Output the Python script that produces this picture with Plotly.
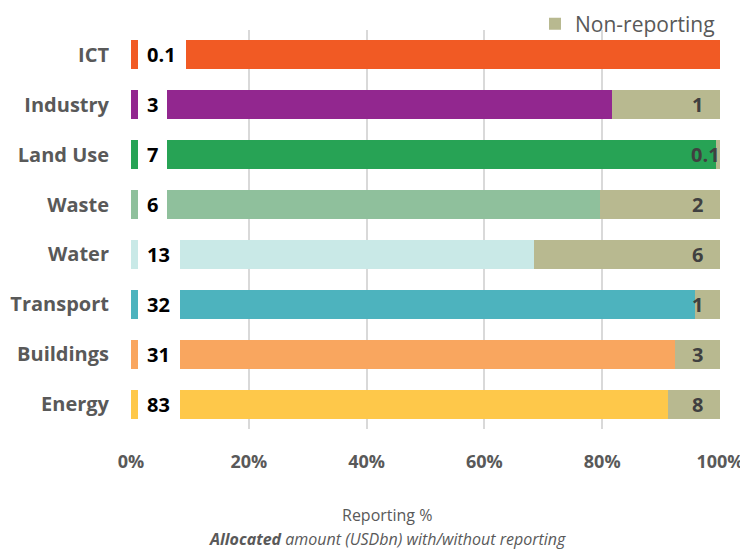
import plotly.graph_objects as go

categories = ["ICT", "Industry", "Land Use", "Waste", "Water", "Transport", "Buildings", "Energy"]
allocated = ["0.1", "3", "7", "6", "13", "32", "31", "83"]
nonrep_labels = ["", "1", "0.1", "2", "6", "1", "3", "8"]
x_ticks = [0, 20, 40, 60, 80, 100]
x_ticklabels = ["0%", "20%", "40%", "60%", "80%", "100%"]

# segment widths (% of bar)
marker_w = [1.2, 1.2, 1.2, 1.2, 1.2, 1.2, 1.2, 1.2]
spacer_w = [8.1, 4.9, 4.9, 4.9, 7.1, 7.1, 7.1, 7.1]
reporting_w = [90.7, 75.6, 93.2, 73.5, 60.1, 87.5, 84.0, 82.9]
nonrep_w = [0, 18.3, 0.7, 20.4, 31.6, 4.2, 7.7, 8.8]

colors = ["#F15A24", "#92278F", "#27A355", "#8FC09C", "#C9E9E7", "#4DB3BE", "#F9A65F", "#FEC84A"]
nonrep_color = "#B8B990"

FONT = "Open Sans"

fig = go.Figure()
fig.add_trace(go.Bar(y=categories, x=marker_w, orientation="h",
                     marker=dict(color=colors, line_width=0), showlegend=False, hoverinfo="skip"))
fig.add_trace(go.Bar(y=categories, x=spacer_w, orientation="h",
                     marker=dict(color="rgba(0,0,0,0)", line_width=0), showlegend=False, hoverinfo="skip"))
fig.add_trace(go.Bar(y=categories, x=reporting_w, orientation="h", name="Reporting",
                     marker=dict(color=colors, line_width=0), showlegend=False))
fig.add_trace(go.Bar(y=categories, x=nonrep_w, orientation="h", name="Non-reporting",
                     marker=dict(color=nonrep_color, line_width=0)))

annotations = []
for i, cat in enumerate(categories):
    annotations.append(dict(x=marker_w[i], y=cat, xref="x", yref="y", text="<b>%s</b>" % allocated[i],
                            showarrow=False, xanchor="left", xshift=7,
                            font=dict(family=FONT, size=20, color="#000000")))
    if nonrep_labels[i]:
        annotations.append(dict(x=100, y=cat, xref="x", yref="y", text="<b>%s</b>" % nonrep_labels[i],
                                showarrow=False, xanchor="right",
                                xshift=-15 if nonrep_w[i] >= 3 else 2,
                                font=dict(family=FONT, size=20, color="#404040")))

annotations.append(dict(x=0.435, y=-0.215, xref="paper", yref="paper", text="Reporting %",
                        showarrow=False, xanchor="center", yanchor="middle",
                        font=dict(family=FONT, size=16, color="#595959")))
annotations.append(dict(x=0.435, y=-0.275, xref="paper", yref="paper",
                        text="<b><i>Allocated</i></b><i> amount (USDbn) with/without reporting</i>",
                        showarrow=False, xanchor="center", yanchor="middle",
                        font=dict(family=FONT, size=16, color="#595959")))

# page body has an 8px margin, so the figure is 8px smaller each way
fig.update_layout(
    width=740, height=542,
    margin=dict(l=123, r=28, t=22, b=121, autoexpand=False),
    plot_bgcolor="white", paper_bgcolor="white",
    barmode="stack", bargap=0.42,
    font=dict(family=FONT, color="#595959"),
    legend=dict(orientation="h", x=1.0, xanchor="right", y=1.015, yanchor="middle",
                font=dict(family=FONT, size=21, color="#595959"), bgcolor="rgba(0,0,0,0)"),
    annotations=annotations,
)
fig.update_xaxes(range=[0, 100], tickvals=x_ticks, ticktext=x_ticklabels,
                 showgrid=True, gridcolor="#d9d9d9", gridwidth=1.5, zeroline=False,
                 showline=False, ticklabelstandoff=20, automargin=False,
                 tickfont=dict(family=FONT, size=18, color="#595959", weight="bold"))
fig.update_yaxes(autorange="reversed", showgrid=False, showline=False, ticks="",
                 ticklabelstandoff=21, automargin=False,
                 tickfont=dict(family=FONT, size=20, color="#595959", weight="bold"))

fig.write_html("out.html")
